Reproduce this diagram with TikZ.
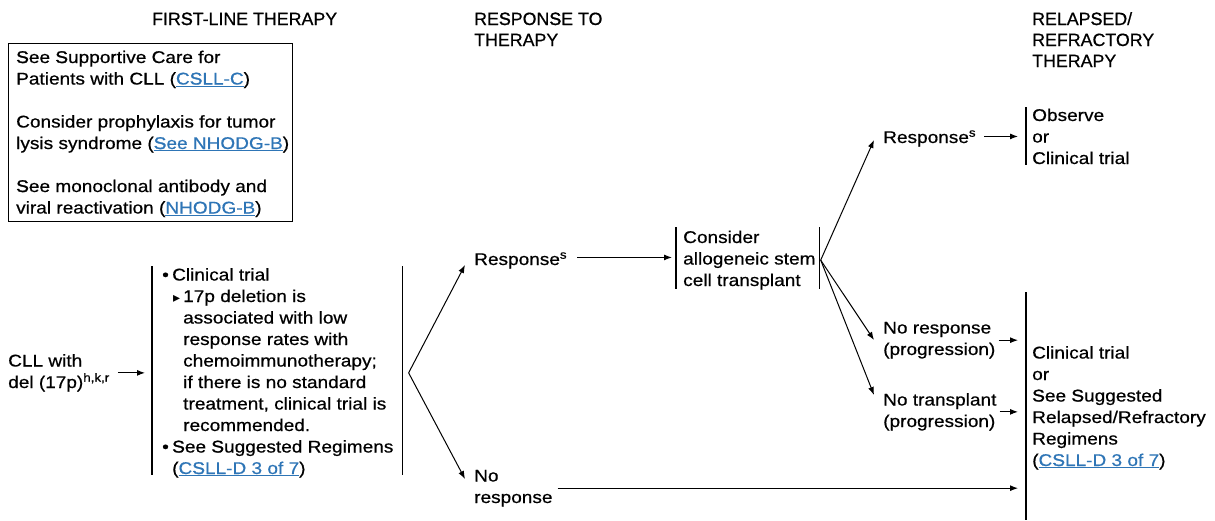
\documentclass[tikz,border=0pt]{standalone}
\usepackage{fontspec}
\setmainfont{Liberation Sans}[FakeStretch=1.12,FakeBold=0.6]
\newfontfamily\sfontb{Liberation Sans}[FakeStretch=1.12,FakeBold=1.6]
\newfontfamily\headfont{Liberation Sans}[FakeBold=0.6]
\newfontfamily\headfontb{Liberation Sans}[FakeBold=1.6]
\newfontfamily\symfont{DejaVu Sans}
\usetikzlibrary{arrows.meta,calc}
\definecolor{linkblue}{RGB}{46,117,182}
\newcommand{\lnk}[1]{\textcolor{linkblue}{\underline{#1}}}
\newcommand{\bS}{{\sfontb S}}
\newcommand{\hS}{{\headfontb S}}
\newcommand{\tri}{\makebox[10pt][l]{\symfont\fontsize{14}{14}\selectfont ▸}}
\begin{document}
\begin{tikzpicture}[x=1pt,y=-1pt,
  txt/.style={inner sep=0pt, align=left, font=\fontsize{17}{21.5}\selectfont, anchor=base west},
  head/.style={inner sep=0pt, align=left, font=\headfont\fontsize{17.8}{21}\selectfont, anchor=base west},
  arr/.style={-{Latex[length=8pt,width=6pt]}, line width=1pt},
  brk/.style={line width=1.1pt}]
\useasboundingbox (0,0) rectangle (1215,520);

% headings (base anchor = last line)
\node[head] (h1) at (152,25) {FIR\hS T-LINE THERAPY};
\node[head] (h2) at (474,46) {RE\hS PON\hS E TO\\THERAPY};
\node[head] (h3) at (1032,67) {RELAP\hS ED/\\REFRACTORY\\THERAPY};

% info box
\node[txt, anchor=north west] (box) at (16,50.5)
 {\bS ee \bS upportive Care for\\Patients with CLL (\lnk{C\bS LL-C})\\[21.5pt]%
  Consider prophylaxis for tumor\\lysis syndrome (\lnk{\bS ee NHODG-B})\\[21.5pt]%
  \bS ee monoclonal antibody and\\viral reactivation (\lnk{NHODG-B})};
\draw[line width=1pt] ([xshift=-8pt,yshift=7.5pt]box.north west) rectangle ++(284,178);

% first line
\node[txt] (cll) at (8,388) {CLL with\\del (17p)\textsuperscript{h,k,r}};
\node[txt] (ft) at (162,474)
 {\makebox[10pt][l]{•}Clinical trial\\%
  \hspace*{11pt}\tri 17p deletion is\\%
  \hspace*{21pt}associated with low\\%
  \hspace*{21pt}response rates with\\%
  \hspace*{21pt}chemoimmunotherapy;\\%
  \hspace*{21pt}if there is no standard\\%
  \hspace*{21pt}treatment, clinical trial is\\%
  \hspace*{21pt}recommended.\\%
  \makebox[10pt][l]{•}\bS ee \bS uggested Regimens\\%
  \hspace*{10pt}(\lnk{C\bS LL-D 3 of 7})};
\draw[brk] ([xshift=-10pt,yshift=1.5pt]ft.north west) -- ([xshift=-10pt,yshift=2.5pt]ft.south west);
\draw[brk] ([xshift=9pt,yshift=1.5pt]ft.north east) -- ([xshift=9pt,yshift=2.5pt]ft.south east);
\draw[arr] ([xshift=8pt]cll.east) -- ([xshift=-17pt]cll.east -| ft.west);
\coordinate (br) at ([xshift=15pt]ft.east |- cll.east);

% response to therapy
\node[txt] (resp1) at (474,265) {Response\textsuperscript{s}};
\node[txt] (nr) at (474,503) {No\\response};
\draw[arr] (br) -- ([xshift=-9pt]resp1.base west);
\draw[arr] (br) -- ([xshift=-9pt,yshift=24pt]nr.base west);

\node[txt] (cons) at (683,286) {Consider\\allogeneic stem\\cell transplant};
\draw[brk] ([xshift=-7pt,yshift=3pt]cons.north west) -- ([xshift=-7pt,yshift=1pt]cons.south west);
\draw[brk] ([xshift=4pt,yshift=3pt]cons.north east) -- ([xshift=4pt,yshift=1pt]cons.south east);
\draw[arr] ([xshift=10pt,yshift=3pt]resp1.east) -- ([xshift=-11pt,yshift=3pt]resp1.east -| cons.west);
\coordinate (cs) at ([xshift=5pt]cons.east);

% after transplant
\node[txt] (resp2) at (883,143) {Response\textsuperscript{s}};
\node[txt] (nrp) at (883,355) {No response\\(progression)};
\node[txt] (ntp) at (883,427) {No transplant\\(progression)};
\draw[arr] (cs) -- ([xshift=-9pt,yshift=3pt]resp2.base west);
\draw[arr] (cs) -- ([xshift=-9pt,yshift=15pt]nrp.base west);
\draw[arr] (cs) -- ([xshift=-9pt,yshift=32pt]ntp.base west);

% relapsed/refractory
\node[txt] (obs) at (1032,164) {Observe\\or\\Clinical trial};
\draw[brk] ([xshift=-6pt,yshift=1pt]obs.north west) -- ([xshift=-6pt,yshift=-1pt]obs.south west);
\draw[arr] ([xshift=8pt,yshift=2pt]resp2.east) -- ([xshift=-14pt,yshift=2pt]resp2.east -| obs.west);

\node[txt] (rr) at (1032,466) {Clinical trial\\or\\\bS ee \bS uggested\\Relapsed/Refractory\\Regimens\\(\lnk{C\bS LL-D 3 of 7})};
\coordinate (rrT) at (1026,292);
\coordinate (rrB) at (1026,520);
\draw[brk] (rrT) -- (rrB);
\draw[arr] ([xshift=3pt]nrp.east) -- ([xshift=-8pt]nrp.east -| rrT);
\draw[arr] ([xshift=3pt]ntp.east) -- ([xshift=-8pt]ntp.east -| rrT);
\draw[arr] ([xshift=5pt]nr.east) -- ([xshift=-8pt]nr.east -| rrT);
\end{tikzpicture}
\end{document}
